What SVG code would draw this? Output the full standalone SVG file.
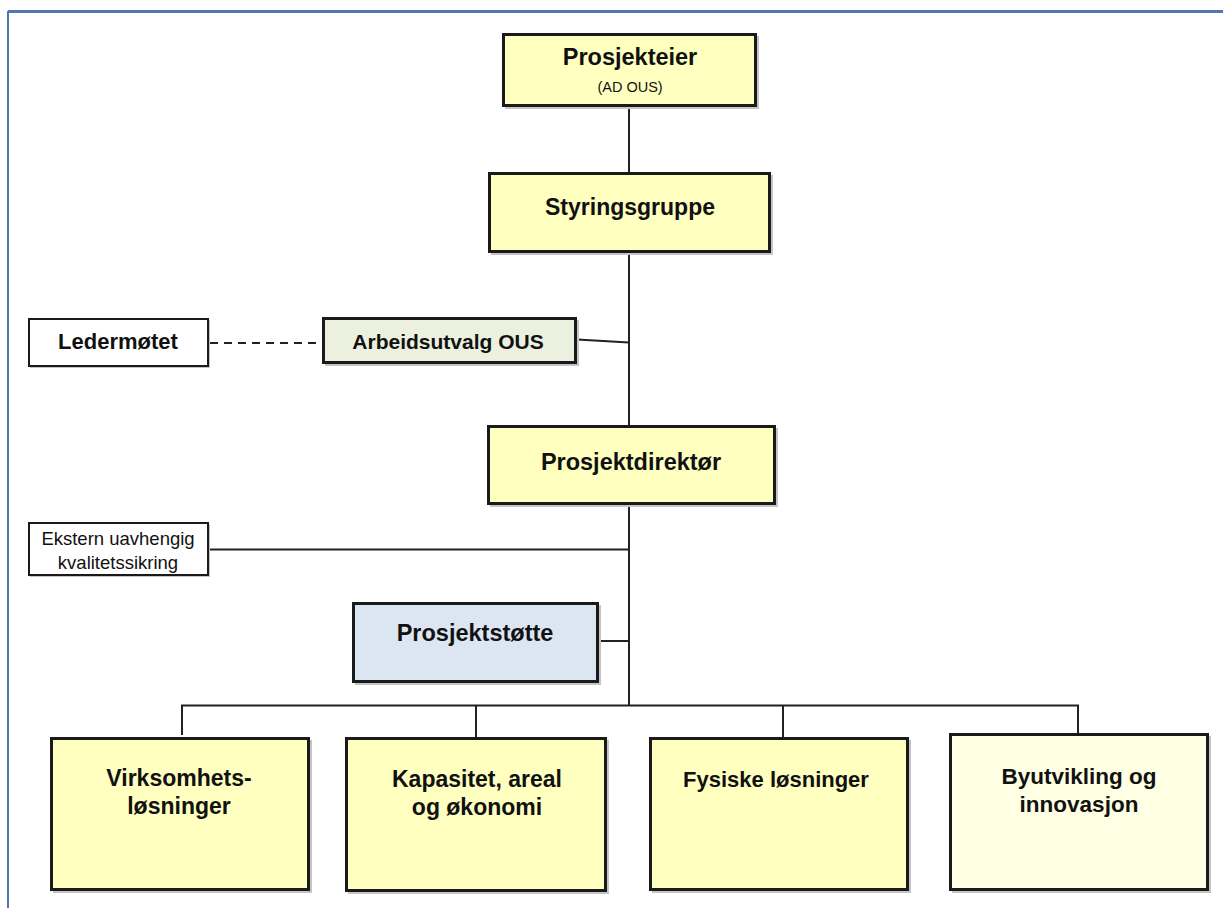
<svg xmlns="http://www.w3.org/2000/svg" width="1223" height="908" viewBox="0 0 1223 908">
  <style>
    .box { stroke: #1a1a1a; stroke-width: 3; }
    .thin { stroke: #1a1a1a; stroke-width: 2; fill: #ffffff; }
    .shadow { fill: #c4c4c4; }
    .yellow { fill: #ffffc0; }
    .pale { fill: #ffffe3; }
    .green { fill: #ebf1de; }
    .blue { fill: #dce6f2; }
    .t { font-family: "Liberation Sans", Arial, sans-serif; font-weight: bold; font-size: 23px; fill: #111111; text-anchor: middle; }
    .s { font-family: "Liberation Sans", Arial, sans-serif; font-size: 18.5px; fill: #111111; text-anchor: middle; }
    .line { stroke: #222222; stroke-width: 2; fill: none; }
    .dash { stroke: #222222; stroke-width: 2; fill: none; stroke-dasharray: 8 6; }
  </style>

  <rect x="0" y="0" width="1223" height="908" fill="#ffffff"/>

  <!-- frame along top and left edges -->
  <g id="frame">
    <line x1="8" y1="11.5" x2="1223" y2="11.5" stroke="#4f78b0" stroke-width="3"/>
    <line x1="8" y1="11" x2="8" y2="908" stroke="#4f78b0" stroke-width="2"/>
  </g>

  <!-- connectors -->
  <g id="connectors">
    <line class="line" x1="629" y1="107" x2="629" y2="172"/>
    <line class="line" x1="629" y1="253" x2="629" y2="706"/>
    <line class="dash" x1="210" y1="343" x2="322" y2="343"/>
    <line class="line" x1="577" y1="339.5" x2="629" y2="342.5"/>
    <line class="line" x1="209" y1="549.5" x2="629" y2="549.5"/>
    <line class="line" x1="599" y1="641" x2="629" y2="641"/>
    <polyline class="line" points="182,735 182,705.5 1078,705.5 1078,733"/>
    <line class="line" x1="476" y1="705.5" x2="476" y2="737"/>
    <line class="line" x1="783" y1="705.5" x2="783" y2="737"/>
  </g>

  <g id="prosjekteier">
    <rect class="shadow" x="505" y="36" width="254" height="73"/>
    <rect class="box yellow" x="503.5" y="34.5" width="252" height="71"/>
    <text class="t" x="630" y="65" style="font-size:23.5px">Prosjekteier</text>
    <text class="s" x="630" y="92" style="font-size:14.5px">(AD OUS)</text>
  </g>

  <g id="styringsgruppe">
    <rect class="shadow" x="491" y="175" width="282" height="80"/>
    <rect class="box yellow" x="489.5" y="173.5" width="280" height="78"/>
    <text class="t" x="630" y="215">Styringsgruppe</text>
  </g>

  <g id="ledermotet">
    <rect class="shadow" x="30" y="320" width="180" height="48"/>
    <rect class="thin" x="29" y="319" width="179" height="47"/>
    <text class="t" x="118" y="349" style="font-size:22px">Ledermøtet</text>
  </g>

  <g id="arbeidsutvalg">
    <rect class="shadow" x="325" y="320" width="254" height="46"/>
    <rect class="box green" x="323.5" y="318.5" width="252" height="44"/>
    <text class="t" x="448" y="349" style="font-size:21px">Arbeidsutvalg OUS</text>
  </g>

  <g id="prosjektdirektor">
    <rect class="shadow" x="490" y="428" width="288" height="79"/>
    <rect class="box yellow" x="488.5" y="426.5" width="286" height="77"/>
    <text class="t" x="631" y="470" style="font-size:23.5px">Prosjektdirektør</text>
  </g>

  <g id="ekstern">
    <rect class="shadow" x="30" y="524" width="180" height="53"/>
    <rect class="thin" x="29" y="523" width="179" height="52"/>
    <text class="s" x="118" y="545">Ekstern uavhengig</text>
    <text class="s" x="118" y="569">kvalitetssikring</text>
  </g>

  <g id="prosjektstotte">
    <rect class="shadow" x="355" y="605" width="246" height="80"/>
    <rect class="box blue" x="353.5" y="603.5" width="244" height="78"/>
    <text class="t" x="475" y="641" style="font-size:23.5px">Prosjektstøtte</text>
  </g>

  <g id="virksomhetslosninger">
    <rect class="shadow" x="53" y="740" width="259" height="153"/>
    <rect class="box yellow" x="51.5" y="738.5" width="257" height="151"/>
    <text class="t" x="179" y="786">Virksomhets-</text>
    <text class="t" x="179" y="814">løsninger</text>
  </g>

  <g id="kapasitet">
    <rect class="shadow" x="348" y="740" width="261" height="154"/>
    <rect class="box yellow" x="346.5" y="738.5" width="259" height="152"/>
    <text class="t" x="477" y="787">Kapasitet, areal</text>
    <text class="t" x="477" y="815">og økonomi</text>
  </g>

  <g id="fysiske">
    <rect class="shadow" x="652" y="740" width="259" height="153"/>
    <rect class="box yellow" x="650.5" y="738.5" width="257" height="151"/>
    <text class="t" x="776" y="787" style="font-size:22px">Fysiske løsninger</text>
  </g>

  <g id="byutvikling">
    <rect class="shadow" x="952" y="736" width="259" height="157"/>
    <rect class="box pale" x="950.5" y="734.5" width="257" height="155"/>
    <text class="t" x="1079" y="784" style="font-size:22.5px">Byutvikling og</text>
    <text class="t" x="1079" y="812" style="font-size:22.5px">innovasjon</text>
  </g>
</svg>
